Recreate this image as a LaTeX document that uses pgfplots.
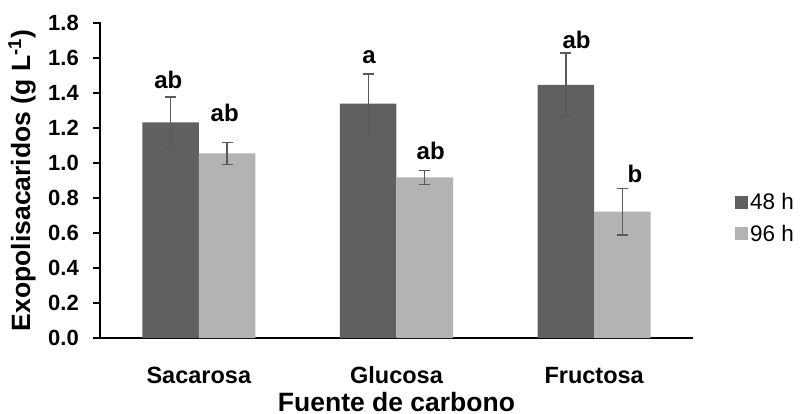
\documentclass[border=0pt]{standalone}
\usepackage{fontspec}
\setmainfont{Liberation Sans}
\usepackage{pgfplots}
\pgfplotsset{compat=1.18}
\usepackage{pgfplotstable}
\definecolor{darkbar}{HTML}{606060}
\definecolor{lightbar}{HTML}{B3B3B3}
\definecolor{errc}{HTML}{5A5A5A}

\pgfplotstableread{
x y err
-0.143 1.232 0.145
0.857 1.339 0.170
1.857 1.446 0.182
}\tabA
\pgfplotstableread{
x y err
0.143 1.055 0.064
1.143 0.918 0.041
2.143 0.722 0.134
}\tabB
\pgfplotstableread{
x y lab
-0.154 1.423 ab
0.131 1.235 ab
0.861 1.570 a
1.173 1.021 ab
1.911 1.654 ab
2.206 0.887 b
}\tabL

\begin{document}
\begin{tikzpicture}
\useasboundingbox (-100pt,-75pt) rectangle (701pt,338pt);
\begin{axis}[
  at={(0pt,0pt)}, anchor=south west,
  scale only axis, width=593pt, height=315pt,
  xmin=-0.5, xmax=2.5, ymin=0, ymax=1.8,
  xtick={0,1,2}, xticklabels={Sacarosa,Glucosa,Fructosa},
  ytick={0,0.2,0.4,0.6,0.8,1.0,1.2,1.4,1.6,1.8},
  axis lines*=left,
  axis line style={line width=1.6pt, black, -},
  xtick style={draw=none},
  ytick style={line width=1.4pt, black},
  tick align=outside, major tick length=7pt,
  /pgf/number format/.cd, fixed, fixed zerofill, precision=1, assume math mode=true, /pgfplots/.cd,
  yticklabel style={font=\fontsize{22}{26}\selectfont\bfseries, anchor=east, inner sep=0pt, xshift=-14pt},
  xticklabel style={font=\fontsize{23.5}{28}\selectfont\bfseries, anchor=base, inner sep=0pt, yshift=-38pt},
  xlabel={Fuente de carbono},
  ylabel={Exopolisacaridos (g L\textsuperscript{-1})},
  label style={font=\fontsize{26.5}{30}\selectfont\bfseries},
  xlabel style={at={(axis description cs:0.5,0)}, anchor=base, yshift=-73pt, inner sep=0pt},
  ylabel style={at={(axis description cs:0,0.5)}, anchor=center, yshift=78pt, inner sep=0pt},
  legend style={at={(1,0.381)}, anchor=west, xshift=42pt, draw=none, fill=none,
    font=\fontsize{22.5}{26}\selectfont, inner sep=0pt, row sep=10pt,
    nodes={inner sep=2pt}},
  legend cell align=left,
  legend image code/.code={\fill[#1] (0pt,-6.5pt) rectangle (13pt,6.5pt);},
  clip=false,
]
\addplot[ybar, bar width=0.286, bar shift=0pt, fill=darkbar, draw=none,
  error bars/.cd, y dir=both, y explicit,
  error bar style={line width=1.3pt, errc},
  error mark options={rotate=90, mark size=5.5pt, line width=1.3pt, errc}]
  table[x=x, y=y, y error=err] {\tabA};
\addlegendentry{48 h}
\addplot[ybar, bar width=0.286, bar shift=0pt, fill=lightbar, draw=none,
  error bars/.cd, y dir=both, y explicit,
  error bar style={line width=1.3pt, errc},
  error mark options={rotate=90, mark size=5.5pt, line width=1.3pt, errc}]
  table[x=x, y=y, y error=err] {\tabB};
\addlegendentry{96 h}
\addplot[draw=none, mark=none, nodes near coords, point meta=explicit symbolic,
  nodes near coords style={anchor=base, inner sep=0pt, font=\fontsize{24}{28}\selectfont\bfseries},
  forget plot]
  table[x=x, y=y, meta=lab] {\tabL};
\end{axis}
\fill[black] (-0.9pt,-0.8pt) rectangle (0.9pt,315.7pt);
\end{tikzpicture}
\end{document}
